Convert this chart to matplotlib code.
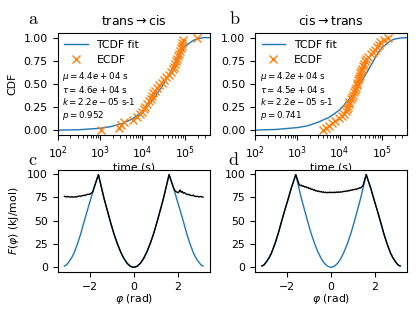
import numpy as np
import matplotlib
matplotlib.use("Agg")
import matplotlib.pyplot as plt

# ---- waiting time data (log10 of seconds)
log_t_a = [3.03, 3.44, 3.50, 3.56, 3.78, 3.88, 3.95, 3.99, 4.03, 4.07, 4.11, 4.15,
           4.19, 4.22, 4.26, 4.30, 4.35, 4.40, 4.45, 4.51, 4.56, 4.63, 4.67, 4.71,
           4.75, 4.77, 4.79, 4.82, 4.84, 4.86, 4.88, 4.90, 4.92, 4.94, 4.96, 5.28]
log_t_b = [3.60, 3.68, 3.76, 3.83, 3.90, 3.99, 4.06, 4.10, 4.14, 4.17, 4.19, 4.21,
           4.23, 4.26, 4.29, 4.31, 4.34, 4.36, 4.38, 4.40, 4.42, 4.43, 4.45, 4.47,
           4.49, 4.51, 4.53, 4.55, 4.57, 4.59, 4.63, 4.67, 4.73, 4.79, 4.84, 4.88,
           4.92, 4.96, 5.04, 5.15]

# TCDF fit curves (log10 t, CDF)
fit_logt = [2.0, 2.5, 3.0, 3.25, 3.5, 3.75, 4.0, 4.25, 4.5, 4.65, 4.8, 4.9,
            5.0, 5.1, 5.2, 5.3, 5.45, 5.6]
fit_a = [0.002, 0.007, 0.022, 0.04, 0.07, 0.12, 0.20, 0.33, 0.50, 0.62, 0.74, 0.83,
         0.90, 0.94, 0.97, 0.99, 1.0, 1.0]
fit_b = [0.003, 0.01, 0.03, 0.05, 0.09, 0.14, 0.22, 0.35, 0.52, 0.63, 0.75, 0.83,
         0.89, 0.93, 0.965, 0.985, 0.997, 1.0]

stats_a = ["4.4e+04", "4.6e+04", "2.2e-05", "0.952"]
stats_b = ["4.2e+04", "4.5e+04", "2.2e-05", "0.741"]

# ---- free energy profiles
phi_pot = [-3.14, -3.05, -2.94, -2.82, -2.71, -2.55, -2.4, -2.26, -2.1, -1.96, -1.8, -1.6,
           -1.5, -1.35, -1.2, -1.05, -0.9, -0.75, -0.6, -0.45, -0.3, -0.15, 0.0,
           0.15, 0.3, 0.45, 0.6, 0.75, 0.9, 1.05, 1.2, 1.35, 1.5, 1.6,
           1.8, 1.96, 2.1, 2.26, 2.4, 2.55, 2.71, 2.82, 2.94, 3.05, 3.14]
V_pot = [1.5, 2.5, 5.8, 10, 15, 25, 36, 48, 61, 72, 85, 99,
         89, 74, 61, 48, 36, 25.7, 16.8, 9.6, 4.3, 1.1, 0.0,
         1.1, 4.3, 9.6, 16.8, 25.7, 36, 48, 61, 74, 89, 99,
         85, 72, 61, 48, 36, 25, 15, 10, 5.8, 2.5, 1.5]

phi_c = [-3.14, -3.05, -3.0, -2.95, -2.85, -2.8, -2.75, -2.65, -2.6, -2.55, -2.45, -2.4,
         -2.35, -2.25, -2.2, -2.15, -2.05, -2.0, -1.95, -1.9, -1.85, -1.8, -1.6,
         -1.5, -1.35, -1.2, -1.05, -0.9, -0.75, -0.6, -0.45, -0.3, -0.15, 0.0,
         0.15, 0.3, 0.45, 0.6, 0.75, 0.9, 1.05, 1.2, 1.35, 1.5, 1.6,
         1.8, 1.85, 1.9, 1.95, 2.0, 2.05, 2.1, 2.15, 2.2, 2.25, 2.3, 2.35, 2.45,
         2.5, 2.55, 2.65, 2.7, 2.75, 2.85, 2.9, 2.95, 3.05, 3.1, 3.14]
F_c = [75.8, 75.2, 75.7, 75.3, 75.0, 75.5, 74.9, 75.4, 75.0, 75.7, 76.2, 75.8,
       76.4, 77.0, 76.7, 77.6, 78.1, 77.8, 79.0, 79.4, 81.0, 85, 99,
       89, 74, 61, 48, 36, 25.7, 16.8, 9.6, 4.3, 1.1, 0.0,
       1.1, 4.3, 9.6, 16.8, 25.7, 36, 48, 61, 74, 89, 99,
       85, 82.5, 81.2, 80.4, 79.6, 80.8, 82.6, 80.2, 81.0, 79.2, 79.8, 78.6, 77.6,
       78.0, 77.0, 76.6, 77.1, 76.0, 75.6, 75.9, 75.2, 75.7, 75.1, 75.0]

phi_d = [-3.14, -3.05, -2.94, -2.82, -2.71, -2.55, -2.4, -2.26, -2.1, -1.96, -1.8, -1.6,
         -1.45, -1.4, -1.35, -1.3, -1.25, -1.2, -1.15, -1.1, -1.05, -1.0, -0.95, -0.9,
         -0.85, -0.8, -0.75, -0.7, -0.65, -0.6, -0.55, -0.5, -0.45, -0.4, -0.35, -0.3,
         -0.25, -0.2, -0.15, -0.1, -0.05, 0.0, 0.05, 0.1, 0.15, 0.2, 0.25, 0.3, 0.35,
         0.4, 0.45, 0.5, 0.55, 0.6, 0.65, 0.7, 0.75, 0.8, 0.85, 0.9, 0.95, 1.0, 1.05,
         1.1, 1.15, 1.2, 1.25, 1.3, 1.35, 1.4, 1.45, 1.6,
         1.8, 1.96, 2.1, 2.26, 2.4, 2.55, 2.71, 2.82, 2.94, 3.05, 3.14]
F_d = [1.5, 2.5, 5.8, 10, 15, 25, 36, 48, 61, 72, 85, 99,
       88.5, 87.2, 87.8, 86.6, 87.0, 85.8, 86.2, 85.0, 85.4, 84.0, 84.6, 83.2,
       83.6, 82.4, 82.9, 81.6, 82.0, 81.0, 81.5, 80.6, 81.0, 80.2, 80.6, 79.8,
       80.3, 79.6, 80.1, 79.7, 80.3, 79.8, 80.2, 79.7, 80.3, 79.8, 80.5, 80.0, 80.6,
       80.1, 80.7, 80.4, 81.0, 81.2, 81.0, 81.6, 81.3, 82.0, 81.8, 82.6, 82.3, 83.1, 82.8,
       83.6, 83.3, 84.2, 84.0, 85.0, 84.7, 86.0, 87.0, 99,
       85, 72, 61, 48, 36, 25, 15, 10, 5.8, 2.5, 1.5]

plt.rcParams["font.size"] = 7.8
fig = plt.figure(figsize=(4.18, 3.13), dpi=100)
W, H = 418.0, 313.0

def box(x0, x1, y0, y1):
    return [x0 / W, 1 - y1 / H, (x1 - x0) / W, (y1 - y0) / H]

ax_a = fig.add_axes(box(57.5, 210, 33, 135))
ax_b = fig.add_axes(box(255, 407, 33, 135))
ax_c = fig.add_axes(box(57.5, 210, 170, 272))
ax_d = fig.add_axes(box(255, 407, 170, 272))

titles = [r"trans$\rightarrow$cis", r"cis$\rightarrow$trans"]
for ax, lt, fit, st, title in [(ax_a, log_t_a, fit_a, stats_a, titles[0]),
                               (ax_b, log_t_b, fit_b, stats_b, titles[1])]:
    t = 10 ** np.array(lt)
    ecdf = np.arange(len(t)) / (len(t) - 1)
    ax.plot(10 ** np.array(fit_logt), fit, color="C0", lw=1, label="TCDF fit")
    ax.plot(t, ecdf, "x", color="C1", ms=5.5, mew=1.0, label="ECDF")
    ax.set_xscale("log")
    ax.set_xlim(1e2, 3.9e5)
    ax.set_yticks([0, 0.25, 0.5, 0.75, 1.0])
    ax.set_xlabel("time (s)", labelpad=1)
    ax.set_title(title, fontsize=9)
    ax.legend(loc="upper left", frameon=False, fontsize=7.8,
              borderaxespad=0.2, handlelength=2.2)
    txt = (r"$\mu = %s$ s" % st[0] + "\n" + r"$\tau = %s$ s" % st[1] + "\n"
           + r"$k = %s$ s-1" % st[2] + "\n" + r"$p = %s$" % st[3])
    ax.text(0.03, 0.64, txt, transform=ax.transAxes, fontsize=6.3,
            va="top", ha="left", linespacing=1.15)
ax_a.set_ylabel("CDF")

for ax, phi, F in [(ax_c, phi_c, F_c), (ax_d, phi_d, F_d)]:
    ax.plot(phi_pot, V_pot, color="C0", lw=1)
    ax.plot(phi, F, color="k", lw=1)
    ax.set_xlabel(r"$\varphi$ (rad)", labelpad=0)
    ax.set_yticks([0, 25, 50, 75, 100])
ax_c.set_ylabel(r"$F(\varphi)$ (kJ/mol)")

for lab, x, y in [("a", 28, 24), ("b", 229, 24), ("c", 28, 165), ("d", 228, 165)]:
    fig.text(x / W, 1 - y / H, r"$\mathrm{%s}$" % lab, fontsize=13,
             math_fontfamily="cm", ha="left", va="baseline")

fig.savefig("out.png", dpi=100)
